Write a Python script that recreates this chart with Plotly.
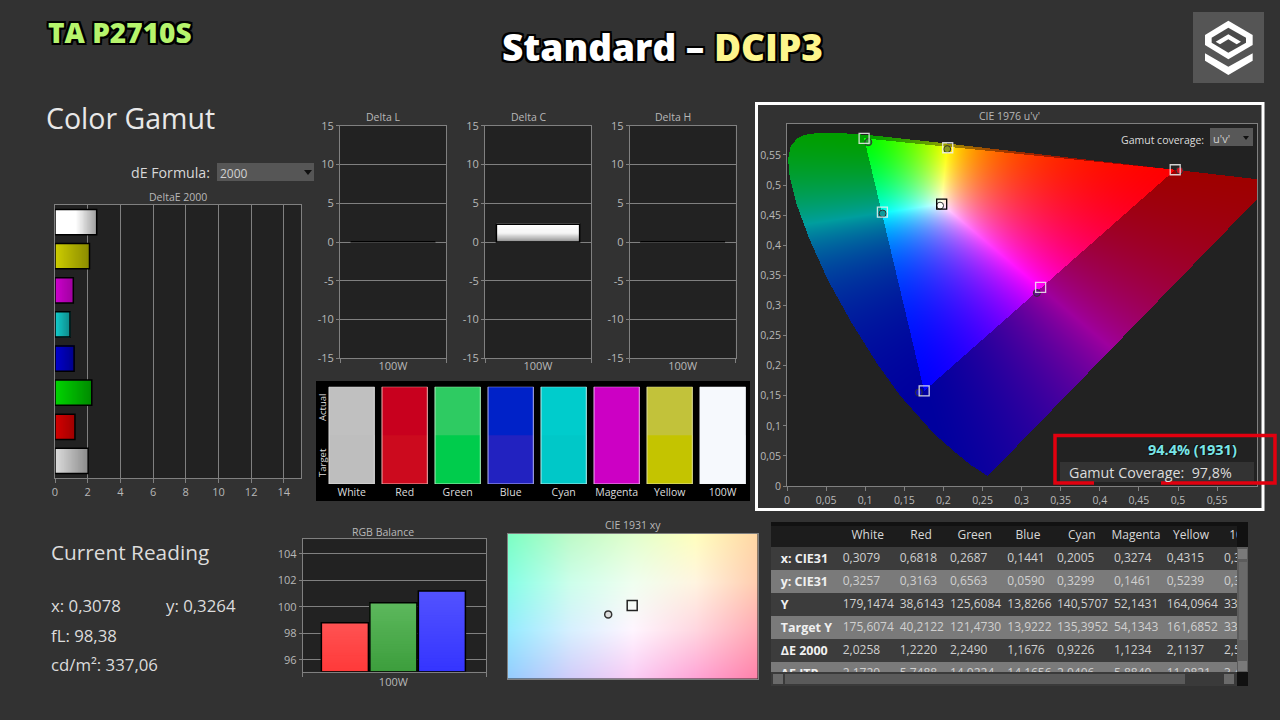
import numpy as np
import plotly.graph_objects as go

W, H = 1280, 720
PAGE_BG = "#323232"
PLOT_BG = "#222222"
FRAME = "#808080"
TICK_TEXT = "#b8b8b8"
FONT = "Open Sans"

# DeltaE 2000 bars, bottom to top
de_labels = ["White", "Red", "Green", "Blue", "Cyan", "Magenta", "Yellow", "100W"]
de_values = [2.03, 1.22, 2.25, 1.17, 0.92, 1.12, 2.11, 2.55]
de_colors = [
    ["#dcdcdc", "#8c8c8c"], ["#d40000", "#a00000"], ["#00d400", "#008c00"], ["#0000cc", "#00008c"],
    ["#12cccc", "#108c8c"], ["#cc00cc", "#a000a0"], ["#cccc00", "#8c8c00"], ["#ffffff", "#ffffff", "#a0a0a0"],
]
de_ticks = [0, 2, 4, 6, 8, 10, 12, 14]

# Delta L / C / H
delta_names = ["Delta L", "Delta C", "Delta H"]
delta_values = [0.03, 2.28, 0.03]
delta_ticks = [-15, -10, -5, 0, 5, 10, 15]

# colour swatches
swatch_labels = ["White", "Red", "Green", "Blue", "Cyan", "Magenta", "Yellow", "100W"]
swatch_target = ["#bebebe", "#cc0a1e", "#00cc4c", "#2222c0", "#00c8c8", "#cc00c4", "#c4c400", "#f6f9fd"]
swatch_actual = ["#c0c0c0", "#c8001e", "#2ecb62", "#0022c8", "#00cccc", "#cc00c4", "#c2c23a", "#f6f9fd"]
swatch_edges = ["#dcdcdc", "#f2b0b0", "#b0f0c0", "#b4b4f4", "#b0f0f0", "#f0b0f0", "#e2e2a0", "#f6f9fd"]

# RGB balance
rgb_values = [98.8, 100.3, 101.2]
rgb_colors = [["#ff3a3a", "#ff5252"], ["#3d9e3d", "#5cb85c"], ["#3535ff", "#5252ff"]]
rgb_ticks = [96, 98, 100, 102, 104]

# xy readings, White Red Green Blue Cyan Magenta Yellow
measured_x = [0.3079, 0.6818, 0.2687, 0.1441, 0.2005, 0.3274, 0.4315]
measured_y = [0.3257, 0.3163, 0.6563, 0.0590, 0.3299, 0.1461, 0.5239]
measured_colors = ["#ffffff", "#d01020", "#1f9a2c", "#1010c0", "#109a9a", "#60108a", "#8a9a20"]
target_u = [0.1978, 0.4964, 0.0986, 0.1754, 0.1220, 0.3243, 0.2055]
target_v = [0.4683, 0.5255, 0.5777, 0.1579, 0.4550, 0.3300, 0.5620]
uv_ticks = [0, 0.05, 0.1, 0.15, 0.2, 0.25, 0.3, 0.35, 0.4, 0.45, 0.5, 0.55]
uv_ticktext = ["0", "0,05", "0,1", "0,15", "0,2", "0,25", "0,3", "0,35", "0,4", "0,45", "0,5", "0,55"]

# spectral locus in u'v'
locus_u = [0.2568, 0.2347, 0.2161, 0.1877, 0.1441, 0.1147, 0.0828, 0.0521, 0.0282, 0.0119, 0.0035, 0.0014,
           0.0046, 0.0123, 0.0231, 0.0360, 0.0501, 0.0792, 0.1127, 0.2026, 0.4035, 0.5203, 0.6005, 0.6234]
locus_v = [0.0166, 0.0350, 0.0549, 0.0871, 0.1510, 0.2044, 0.2708, 0.3427, 0.4117, 0.4698, 0.5131, 0.5432,
           0.5638, 0.5770, 0.5837, 0.5861, 0.5868, 0.5856, 0.5821, 0.5694, 0.5393, 0.5219, 0.5099, 0.5065]

# CIE 1931 close-up, background colours, top row first
xy_field = [
    [(125, 255, 195), (190, 250, 200), (225, 255, 205), (255, 255, 190), (255, 215, 165)],
    [(135, 255, 230), (205, 255, 235), (240, 255, 240), (255, 245, 225), (255, 205, 175)],
    [(150, 235, 255), (215, 240, 255), (255, 245, 255), (255, 215, 225), (255, 170, 180)],
    [(150, 205, 255), (210, 205, 250), (250, 205, 245), (255, 165, 215), (255, 130, 170)],
]
xy_target = (0.3127, 0.3290)

# table
table_header = ["White", "Red", "Green", "Blue", "Cyan", "Magenta", "Yellow", "100W"]
table_rows = ["x: CIE31", "y: CIE31", "Y", "Target Y", "\u0394E 2000", "\u0394E ITP"]
table_values = [
    ["0,3079", "0,6818", "0,2687", "0,1441", "0,2005", "0,3274", "0,4315", "0,3078"],
    ["0,3257", "0,3163", "0,6563", "0,0590", "0,3299", "0,1461", "0,5239", "0,3264"],
    ["179,1474", "38,6143", "125,6084", "13,8266", "140,5707", "52,1431", "164,0964", "337,0584"],
    ["175,6074", "40,2122", "121,4730", "13,9222", "135,3952", "54,1343", "161,6852", "331,5012"],
    ["2,0258", "1,2220", "2,2490", "1,1676", "0,9226", "1,1234", "2,1137", "2,5510"],
    ["2,1720", "5,7488", "14,0224", "14,1656", "2,0406", "5,8840", "11,0821", "3,4120"],
]

shapes = []
annotations = []


def rect(x0, y0, x1, y1, fill="rgba(0,0,0,0)", line=None, width=1, layer="below"):
    shapes.append(dict(type="rect", xref="paper", yref="paper", x0=x0 / W, x1=x1 / W, y0=1 - y0 / H, y1=1 - y1 / H,
                       fillcolor=fill, line=dict(color=line or "rgba(0,0,0,0)", width=width if line else 0), layer=layer))


def polygon(points, fill="rgba(0,0,0,0)", line=None, width=1, closed=True):
    path = "M" + " L".join(f"{x / W:.5f},{1 - y / H:.5f}" for x, y in points) + (" Z" if closed else "")
    shapes.append(dict(type="path", xref="paper", yref="paper", path=path, fillcolor=fill,
                       line=dict(color=line or "rgba(0,0,0,0)", width=width if line else 0), layer="above"))


def label(x, y, text, size=11, color=TICK_TEXT, anchor="left", **font):
    angle = font.pop("textangle", 0)
    annotations.append(dict(xref="paper", yref="paper", x=x / W, y=1 - y / H, text=text, showarrow=False,
                            xanchor=anchor, yanchor="middle", textangle=angle,
                            font=dict(family=font.pop("family", FONT), size=size, color=color, **font)))


def hex_rgb(color):
    return tuple(int(color[i:i + 2], 16) for i in (1, 3, 5))


def gradient_stops(stops, frac):
    pos = np.linspace(0, 1, len(stops))
    rgb = [np.interp(frac, pos, [hex_rgb(s)[c] for s in stops]) for c in range(3)]
    return "rgb({:.0f},{:.0f},{:.0f})".format(*rgb)


def add_axes(fig, n, box, xrange, yrange, xticks=None, yticks=None, xgrid=False, ygrid=False, end_ticks=False, **extra):
    x0, y0, x1, y1 = box
    tickfont = dict(family=FONT, size=extra.get("size", 11), color=TICK_TEXT)
    xaxis = dict(domain=[x0 / W, x1 / W], anchor=f"y{n}", range=xrange, showline=True, mirror=True, linecolor=FRAME,
                 linewidth=1, showgrid=xgrid, gridcolor=FRAME, gridwidth=1, zeroline=False, fixedrange=True,
                 tickfont=tickfont, ticks="outside" if not end_ticks else "", ticklen=4, tickcolor=FRAME,
                 ticklabelstandoff=extra.get("standoff", 0))
    yaxis = dict(domain=[1 - y1 / H, 1 - y0 / H], anchor=f"x{n}", range=yrange, showline=True, mirror=True, linecolor=FRAME,
                 linewidth=1, showgrid=ygrid, gridcolor=FRAME, gridwidth=1, zeroline=False, fixedrange=True,
                 tickfont=tickfont, ticks="outside", ticklen=3, tickcolor=FRAME, scaleanchor=False)
    if xticks:
        xaxis.update(tickmode="array", tickvals=xticks[0], ticktext=xticks[1])
    else:
        xaxis.update(showticklabels=False, ticks="")
    if yticks:
        yaxis.update(tickmode="array", tickvals=yticks[0], ticktext=yticks[1])
    else:
        yaxis.update(showticklabels=False, ticks="")
    if end_ticks:
        xaxis["minor"] = dict(tickmode="array", tickvals=xrange, ticks="outside", ticklen=4, tickcolor=FRAME)
    fig.update_layout(**{f"xaxis{n}": xaxis, f"yaxis{n}": yaxis})
    rect(x0, y0, x1, y1, fill=PLOT_BG)


def gradient_bar(fig, n, pos, start, end, stops, width, horizontal=False, steps=30):
    """Paint one bar as overlapping slices, then its black outline on top."""
    edges = start + (end - start) * np.arange(steps) / steps
    colors = [gradient_stops(stops, i / (steps - 1)) for i in range(steps)]
    lengths = end - edges
    common = dict(xaxis=f"x{n}", yaxis=f"y{n}", width=width, showlegend=False, hoverinfo="skip", cliponaxis=False)
    if horizontal:
        fig.add_trace(go.Bar(y=[pos] * steps, x=lengths, base=edges, orientation="h",
                             marker=dict(color=colors, line=dict(width=0)), **common))
        fig.add_trace(go.Bar(y=[pos], x=[end - start], base=[start], orientation="h",
                             marker=dict(color="rgba(0,0,0,0)", line=dict(color="#000000", width=1.5)), **common))
    else:
        fig.add_trace(go.Bar(x=[pos] * steps, y=lengths, base=edges,
                             marker=dict(color=colors, line=dict(width=0)), **common))
        fig.add_trace(go.Bar(x=[pos], y=[end - start], base=[start],
                             marker=dict(color="rgba(0,0,0,0)", line=dict(color="#000000", width=1.5)), **common))


def xy_to_uv(x, y):
    x, y = np.asarray(x), np.asarray(y)
    d = -2 * x + 12 * y + 3
    return 4 * x / d, 9 * y / d


def inside_polygon(px, py, vx, vy):
    result = np.zeros(px.shape, dtype=bool)
    j = len(vx) - 1
    for i in range(len(vx)):
        crosses = (vy[i] > py) != (vy[j] > py)
        with np.errstate(divide="ignore", invalid="ignore"):
            result ^= crosses & (px < (vx[j] - vx[i]) * (py - vy[i]) / (vy[j] - vy[i]) + vx[i])
        j = i
    return result


def chromaticity_image(urange, vrange, cols, rows):
    """Colour field of the u'v' diagram: full colour inside the target triangle, dimmed outside."""
    us = urange[0] + (np.arange(cols) + 0.5) * (urange[1] - urange[0]) / cols
    vs = vrange[0] + (np.arange(rows) + 0.5) * (vrange[1] - vrange[0]) / rows
    u, v = np.meshgrid(us, vs)
    big_x = 9 * u / (4 * v)
    big_z = (12 - 3 * u - 20 * v) / (4 * v)
    r = 2.4935 * big_x - 0.9314 - 0.4027 * big_z
    g = -0.8295 * big_x + 1.7627 + 0.0236 * big_z
    b = 0.0358 * big_x - 0.0762 + 0.9569 * big_z
    rgb = np.clip(np.stack([r, g, b], axis=-1), 0, None)
    rgb = rgb / rgb.max(axis=-1, keepdims=True)
    rgb = rgb ** 1.25
    in_gamut = inside_polygon(u, v, np.array(target_u[1:4]), np.array(target_v[1:4]))
    rgb[~in_gamut] *= 0.62
    img = (rgb * 255).astype(np.uint8)
    outside = ~inside_polygon(u, v, np.array(locus_u), np.array(locus_v))
    img[outside] = hex_rgb(PLOT_BG)
    return img, us, vs


def field_image(cols, rows):
    field = np.array(xy_field, dtype=float)
    xi = np.linspace(0, field.shape[1] - 1, cols)
    yi = np.linspace(0, field.shape[0] - 1, rows)
    by_col = np.stack([[np.interp(xi, np.arange(field.shape[1]), row[:, c]) for row in field] for c in range(3)], axis=-1)
    out = np.stack([[np.interp(yi, np.arange(field.shape[0]), by_col[:, j, c]) for j in range(cols)] for c in range(3)], axis=-1)
    return np.transpose(out, (1, 0, 2)).astype(np.uint8)


def draw_titles():
    outline = ",".join(f"{a}px {b}px 0 #000" for a in (-2, 0, 2) for b in (-2, 0, 2))
    label(46, 32, "TA P2710S", size=28, color="#b6f46c", family="Open Sans", weight=800, shadow=outline)
    label(662, 47, 'Standard \u2013 <span style="color:#fdf58c">DCIP3</span>', size=37, color="#ffffff", anchor="center",
          family="Open Sans", weight=800, shadow=outline)
    label(44, 118, "Color Gamut", size=28.5, color="#e8e8e8")
    label(129, 172, "dE Formula:", size=14.2, color="#d8d8d8")
    rect(217, 163, 314, 181, fill="#565656")
    label(218, 173, "2000", size=12, color="#d0d0d0")
    polygon([(304, 170), (312, 170), (308, 175)], fill="#111111")
    label(178, 197, "DeltaE 2000", size=10.5, anchor="center")

    label(49, 552, "Current Reading", size=20.8, color="#dcdcdc")
    label(49, 605, "x: 0,3078", size=16.8, color="#dcdcdc")
    label(164, 605, "y: 0,3264", size=16.8, color="#dcdcdc")
    label(49, 635, "fL: 98,38", size=16.8, color="#dcdcdc")
    label(49, 664, "cd/m\u00b2: 337,06", size=16.8, color="#dcdcdc")


def draw_logo():
    rect(1193, 12, 1264, 83, fill="#555555")
    def scaled(points):
        return [(1180 + a / 3, b / 3) for a, b in points]
    polygon(scaled([(145, 62), (218, 105), (218, 135), (145, 178), (75, 135), (75, 105)]), fill="#ffffff")
    polygon(scaled([(145, 83), (198, 113), (198, 128), (145, 158), (95, 128), (95, 113)]), fill="#4a4a4a")
    polygon(scaled([(107, 125), (145, 103), (183, 125), (170, 133), (145, 118), (120, 133)]), fill="#ffffff")
    polygon(scaled([(75, 160), (145, 200), (218, 160), (218, 182), (145, 225), (75, 182)]), fill="#ffffff")


def draw_delta_e(fig):
    add_axes(fig, 2, (55, 205, 301, 478), [0, 15.05], [-0.5, 7.5],
             xticks=(de_ticks, [str(t) for t in de_ticks]), xgrid=True)
    for i, value in enumerate(de_values):
        gradient_bar(fig, 2, i, 0, value, de_colors[i], 0.74, horizontal=True)


def draw_delta_lch(fig):
    boxes = [(340, 125.7, 446, 358.3), (485, 125.7, 591, 358.3), (629.7, 125.7, 735.7, 358.3)]
    for k, box in enumerate(boxes):
        n = 3 + k
        add_axes(fig, n, box, [-0.5, 0.5], [-15, 15], xticks=([0], ["100W"]), standoff=-3,
                 yticks=(delta_ticks, [str(t) for t in delta_ticks]), ygrid=True, end_ticks=True)
        gradient_bar(fig, n, 0, 0, delta_values[k], ["#909090", "#f4f4f4", "#ffffff"], 0.785)
        label((box[0] + box[2]) / 2 - 10, 117, delta_names[k], size=10.5, anchor="center")


def draw_swatches(fig):
    rect(316, 381, 750, 501, fill="#000000")
    n = 6
    add_axes(fig, n, (316, 386.7, 750, 484), [-0.673, 7.516], [0, 2],
             xticks=(list(range(8)), swatch_labels))
    shapes.pop()
    common = dict(xaxis=f"x{n}", yaxis=f"y{n}", width=0.855, showlegend=False, hoverinfo="skip", cliponaxis=False)
    idx = list(range(8))
    fig.add_trace(go.Bar(x=idx, y=[2] * 8, base=[0] * 8, marker=dict(color=swatch_actual, line=dict(width=0)), **common))
    fig.add_trace(go.Bar(x=idx, y=[1] * 8, base=[0] * 8, marker=dict(color=swatch_target, line=dict(width=0)), **common))
    fig.add_trace(go.Bar(x=idx, y=[2] * 8, base=[0] * 8,
                         marker=dict(color="rgba(0,0,0,0)", line=dict(color=swatch_edges, width=1)), **common))
    fig.update_layout(**{f"xaxis{n}": dict(showline=False, mirror=False, ticks="", tickfont=dict(color="#dcdcdc", size=10.5)),
                         f"yaxis{n}": dict(showline=False, mirror=False)})
    label(322, 408, "Actual", size=9.5, color="#dcdcdc", anchor="center", textangle=-90)
    label(322, 463, "Target", size=9.5, color="#dcdcdc", anchor="center", textangle=-90)


def draw_rgb(fig):
    n = 7
    add_axes(fig, n, (302.7, 539.3, 486.3, 671.7), [-0.87, 2.916], [95.1, 105.1], xticks=([1], ["100W"]),
             yticks=(rgb_ticks, [str(t) for t in rgb_ticks]), ygrid=True, end_ticks=True)
    for i, value in enumerate(rgb_values):
        gradient_bar(fig, n, i, 95.1, value, rgb_colors[i], 0.97)
    label(383, 532, "RGB Balance", size=10.5, anchor="center")


def draw_xy(fig):
    n = 8
    xr, yr = [0.2878, 0.3378], [0.3021, 0.3553]
    add_axes(fig, n, (507.7, 533.7, 757.7, 678.7), xr, yr)
    img = field_image(250, 145)[::-1]
    dx, dy = (xr[1] - xr[0]) / 250, (yr[1] - yr[0]) / 145
    fig.add_trace(go.Image(z=img.tolist(), x0=xr[0] + dx / 2, dx=dx, y0=yr[0] + dy / 2, dy=dy,
                           xaxis=f"x{n}", yaxis=f"y{n}", hoverinfo="skip"))
    fig.add_trace(go.Scatter(x=[xy_target[0]], y=[xy_target[1]], mode="markers", xaxis=f"x{n}", yaxis=f"y{n}",
                             marker=dict(symbol="square-open", size=10, color="#222222", line=dict(width=1.5)),
                             showlegend=False, hoverinfo="skip"))
    fig.add_trace(go.Scatter(x=[measured_x[0]], y=[measured_y[0]], mode="markers", xaxis=f"x{n}", yaxis=f"y{n}",
                             marker=dict(symbol="circle", size=7, color="#dddddd", line=dict(color="#333333", width=1.5)),
                             showlegend=False, hoverinfo="skip"))
    label(633, 525, "CIE 1931 xy", size=10.5, anchor="center")


def draw_uv(fig):
    n = 9
    rect(756.5, 103.5, 1263, 509.5, line="#ffffff", width=3, fill=PAGE_BG)
    ur, vr = [0, 0.601], [0, 0.6015]
    add_axes(fig, n, (787, 124, 1257, 486), ur, vr, xticks=(uv_ticks, uv_ticktext), yticks=(uv_ticks, uv_ticktext), size=10.5)
    img, us, vs = chromaticity_image(ur, vr, 470, 362)
    fig.add_trace(go.Image(z=img.tolist(), x0=us[0], dx=us[1] - us[0], y0=vs[0], dy=vs[1] - vs[0],
                           xaxis=f"x{n}", yaxis=f"y{n}", hoverinfo="skip"))
    mu, mv = xy_to_uv(measured_x, measured_y)
    fig.add_trace(go.Scatter(x=mu, y=mv, mode="markers", xaxis=f"x{n}", yaxis=f"y{n}", showlegend=False, hoverinfo="skip",
                             marker=dict(size=7, color=measured_colors, line=dict(color="#303030", width=1))))
    edge = ["#000000"] + ["rgba(240,240,240,0.85)"] * 6
    fig.add_trace(go.Scatter(x=target_u, y=target_v, mode="markers", xaxis=f"x{n}", yaxis=f"y{n}", showlegend=False, hoverinfo="skip",
                             marker=dict(symbol="square-open", size=10, color=edge, line=dict(width=1.3))))
    label(1009, 116, "CIE 1976 u'v'", size=10.5, anchor="center")
    label(1206, 140, "Gamut coverage:", size=10.5, color="#dcdcdc", anchor="right")
    rect(1210, 128, 1253, 146, fill="#585858", layer="above")
    label(1211, 138, "u'v'", size=11, color="#d0d0d0")
    polygon([(1243, 136), (1249, 136), (1246, 140)], fill="#111111")
    # coverage read-out and red call-out box
    rect(1060, 462, 1254, 482, fill="#333333", layer="above")
    label(1067, 472, "Gamut Coverage:  97,8%", size=14.3, color="#dcdcdc")
    label(1239, 449, "94.4% (1931)", size=14.5, color="#79e6e8", anchor="right", weight=700,
          shadow="1px 1px 0 #111,-1px -1px 0 #111")
    polygon([(1094, 483), (1055, 483), (1055, 435.5), (1275, 435.5), (1275, 483), (1161, 483)], line="#e2000f", width=3.5, closed=False)


def draw_table(fig):
    n = 10
    rect(771, 522, 1248, 686, fill="#111111")
    rect(771, 526, 1237, 547, fill="#1c1c1c")
    row_h = 23
    for i in range(len(table_rows)):
        top = 547 + i * row_h
        rect(771, top, 1237, min(top + row_h, 672), fill="#3c3c3c" if i % 2 == 0 else "#7a7a7a")
    col_x = [842.7, 899.7, 950, 1007.3, 1057, 1114, 1166.7, 1224]
    head_x = [867.7, 921, 974.7, 1028, 1081.7, 1136, 1191, 1245]
    fig.update_layout(**{f"xaxis{n}": dict(domain=[771 / W, 1237 / W], range=[771, 1237], anchor=f"y{n}", visible=False, fixedrange=True),
                         f"yaxis{n}": dict(domain=[1 - 672 / H, 1 - 522 / H], range=[125 / row_h, -25 / row_h], anchor=f"x{n}", visible=False, fixedrange=True)})
    common = dict(xaxis=f"x{n}", yaxis=f"y{n}", mode="text", showlegend=False, hoverinfo="skip", cliponaxis=True)
    fig.add_trace(go.Scatter(x=head_x, y=[-0.47] * 8, text=table_header, textposition="middle center",
                             textfont=dict(family=FONT, size=12, color="#d8d8d8"), **common))
    rows_y = [i + 0.54 for i in range(len(table_rows))]
    fig.add_trace(go.Scatter(x=[780.7] * len(table_rows), y=rows_y, text=[f"<b>{r}</b>" for r in table_rows],
                             textposition="middle right", textfont=dict(family=FONT, size=12.5, color="#f0f0f0"), **common))
    for i, row in enumerate(table_values):
        fig.add_trace(go.Scatter(x=col_x, y=[i + 0.54] * len(row), text=row, textposition="middle right",
                                 textfont=dict(family=FONT, size=12, color="#d0d0d0"), **common))
    # scroll bars
    rect(1237, 547, 1248, 672, fill="#5c5c5c", layer="above")
    rect(1239, 562, 1247, 640, fill="#6a6a6a", layer="above")
    rect(1238, 549, 1247, 559, fill="#7a7a7a", layer="above")
    rect(1238, 661, 1247, 671, fill="#7a7a7a", layer="above")
    rect(771, 672, 1237, 686, fill="#3a3a3a", layer="above")
    rect(785, 674, 1185, 684, fill="#5a5a5a", layer="above")
    rect(773, 674, 783, 684, fill="#6a6a6a", layer="above")
    rect(1224, 674, 1234, 684, fill="#6a6a6a", layer="above")


def main():
    fig = go.Figure()
    draw_titles()
    draw_logo()
    draw_delta_e(fig)
    draw_delta_lch(fig)
    draw_swatches(fig)
    draw_rgb(fig)
    draw_xy(fig)
    draw_uv(fig)
    draw_table(fig)
    fig.update_layout(width=W, height=H, margin=dict(l=0, r=0, t=0, b=0, autoexpand=False), paper_bgcolor=PAGE_BG,
                      plot_bgcolor="rgba(0,0,0,0)", barmode="overlay", showlegend=False,
                      shapes=shapes, annotations=annotations, font=dict(family=FONT))
    fig.write_html("out.html", config={"displayModeBar": False},
                   post_script="document.documentElement.style.background='#323232';document.body.style.margin='0';document.body.style.overflow='hidden';")


if __name__ == "__main__":
    main()
